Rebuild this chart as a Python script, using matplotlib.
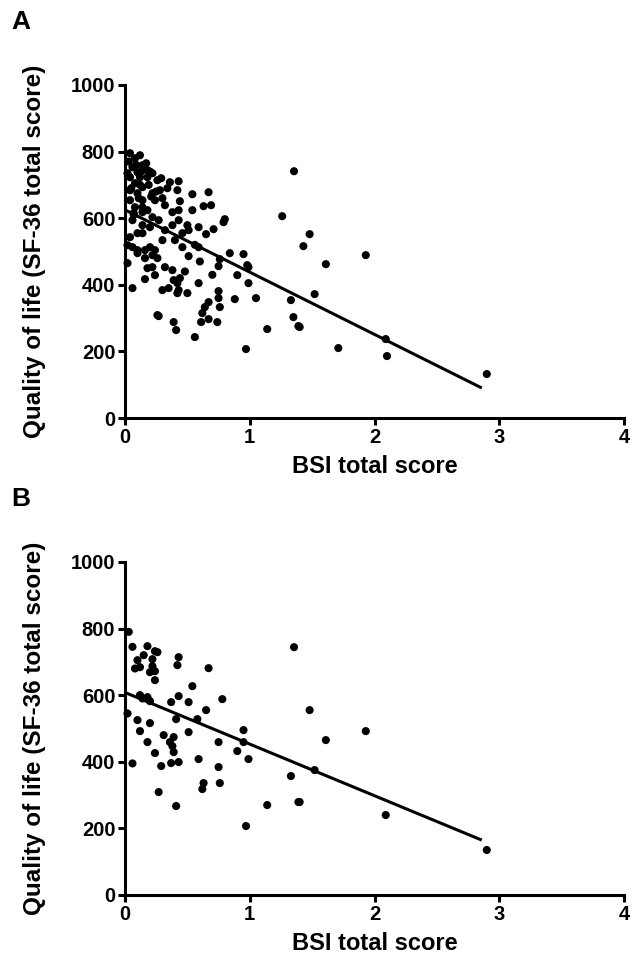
import matplotlib
matplotlib.use("Agg")
import matplotlib.pyplot as plt
import numpy as np

# BSI total score (x) vs SF-36 total score (y), panel A (all subjects)
bsi_a = [1.48, 1.43, 1.93, 1.61, 1.52, 2.09, 1.71, 2.10, 2.90, 1.40,
         1.355, 1.26, 1.33, 1.35, 1.39, 1.14, 0.97, 1.05, 0.88, 0.99,
         0.90, 0.95, 0.98, 0.99, 0.84, 0.75, 0.76, 0.80, 0.79, 0.71,
         0.65, 0.59, 0.59, 0.51, 0.59, 0.50, 0.75, 0.75, 0.76, 0.74,
         0.67, 0.64, 0.62, 0.61, 0.67, 0.56, 0.41, 0.39, 0.27, 0.16,
         0.24, 0.30, 0.32, 0.38, 0.39, 0.42, 0.43, 0.42, 0.35, 0.44,
         0.54, 0.67, 0.63, 0.69, 0.54, 0.43, 0.36, 0.42, 0.44, 0.43,
         0.38, 0.43, 0.50, 0.51, 0.38, 0.46, 0.40, 0.46, 0.30, 0.24,
         0.20, 0.26, 0.16, 0.22, 0.18, 0.32, 0.27, 0.22, 0.20, 0.18,
         0.14, 0.24, 0.22, 0.28, 0.30, 0.26, 0.18, 0.14, 0.18, 0.22,
         0.14, 0.32, 0.14, 0.04, 0.08, 0.12, 0.17, 0.06, 0.10, 0.04,
         0.12, 0.08, 0.04, 0.10, 0.04, 0.14, 0.08, 0.14, 0.06, 0.14,
         0.04, 0.10, 0.06, 0.10, 0.06, 0.26, 0.10, 0.02, 0.16, 0.22,
         0.02, 0.03, 0.07, 0.12, 0.20, 0.34, 0.48, 0.56, 0.60, 0.70,
         0.02, 0.05, 0.09, 0.13, 0.19, 0.25, 0.29, 0.11, 0.07, 0.21]
sf36_a = [552, 516, 489, 462, 372, 237, 210, 186, 132, 273,
          741, 606, 354, 303, 276, 267, 207, 360, 357, 405,
          429, 492, 459, 453, 495, 456, 477, 597, 588, 567,
          552, 573, 513, 486, 405, 375, 381, 360, 333, 288,
          348, 333, 315, 288, 297, 243, 264, 288, 306, 417,
          429, 384, 453, 444, 414, 405, 384, 375, 390, 420,
          672, 678, 636, 639, 624, 711, 708, 684, 651, 624,
          618, 594, 579, 564, 579, 555, 534, 513, 534, 504,
          513, 480, 504, 453, 450, 564, 594, 603, 573, 624,
          633, 654, 675, 684, 660, 714, 723, 759, 744, 735,
          693, 639, 555, 795, 780, 789, 765, 753, 738, 723,
          723, 705, 684, 675, 654, 654, 633, 618, 594, 579,
          543, 555, 513, 504, 390, 309, 495, 519, 480, 489,
          465, 770, 610, 700, 740, 690, 440, 520, 470, 430,
          735, 690, 760, 740, 700, 680, 720, 660, 615, 665]

# Panel B (subgroup)
bsi_b = [1.48, 1.93, 1.61, 1.52, 1.40, 2.09, 2.90, 1.355, 1.33, 1.39,
         1.14, 0.97, 0.99, 0.90, 0.95, 0.95, 0.75, 0.75, 0.76, 0.62,
         0.63, 0.59, 0.51, 0.58, 0.65, 0.78, 0.54, 0.67, 0.51, 0.43,
         0.37, 0.41, 0.43, 0.42, 0.41, 0.27, 0.29, 0.37, 0.43, 0.39,
         0.38, 0.36, 0.39, 0.31, 0.24, 0.18, 0.20, 0.18, 0.20, 0.18,
         0.24, 0.26, 0.22, 0.22, 0.24, 0.20, 0.24, 0.12, 0.12, 0.03,
         0.06, 0.10, 0.08, 0.02, 0.06, 0.12, 0.14, 0.10, 0.15]
sf36_b = [555, 492, 465, 375, 279, 240, 135, 744, 357, 279,
          270, 207, 408, 432, 495, 459, 459, 384, 336, 318,
          336, 408, 489, 528, 555, 588, 627, 681, 579, 597,
          579, 528, 714, 690, 267, 309, 387, 396, 399, 429,
          447, 459, 474, 480, 426, 459, 516, 594, 582, 747,
          732, 729, 708, 687, 672, 669, 645, 684, 492, 790,
          745, 705, 680, 545, 395, 600, 590, 525, 720]

# regression lines: intercept, slope, x end
fit_a = (625, -187, 2.86)
fit_b = (608, -155, 2.86)

plt.rcParams['font.family'] = ['Liberation Sans', 'DejaVu Sans']
plt.rcParams['font.weight'] = 'bold'

fig = plt.figure(figsize=(6.42, 9.71), dpi=100)
ax_a = fig.add_axes([0.1947, 0.5695, 0.7773, 0.343])
ax_b = fig.add_axes([0.1947, 0.0783, 0.7773, 0.343])

for ax, xs, ys, fit in [(ax_a, bsi_a, sf36_a, fit_a),
                        (ax_b, bsi_b, sf36_b, fit_b)]:
    ax.scatter(xs, ys, s=34, color='black', edgecolors='none', clip_on=False, zorder=3)
    xl = np.array([0, fit[2]])
    ax.plot(xl, fit[0] + fit[1] * xl, color='black', lw=2.2, solid_capstyle='butt')
    ax.set_xlim(0, 4)
    ax.set_ylim(0, 1000)
    ax.set_xticks([0, 1, 2, 3, 4])
    ax.set_yticks([0, 200, 400, 600, 800, 1000])
    for s in ['top', 'right']:
        ax.spines[s].set_visible(False)
    for s in ['left', 'bottom']:
        ax.spines[s].set_linewidth(2.2)
    ax.tick_params(width=2.2, length=5, labelsize=14.5, pad=2)
    ax.set_xlabel('BSI total score', fontsize=17, fontweight='bold', labelpad=6)
    ax.set_ylabel('Quality of life (SF-36 total score)', fontsize=17.5,
                  fontweight='bold', labelpad=18)

# lettres des panneaux
fig.text(0.018, 1 - 22 / 971, 'A', fontsize=19, fontweight='bold', va='center', ha='left')
fig.text(0.018, 1 - 499 / 971, 'B', fontsize=19, fontweight='bold', va='center', ha='left')

fig.savefig('out.png', dpi=100)
